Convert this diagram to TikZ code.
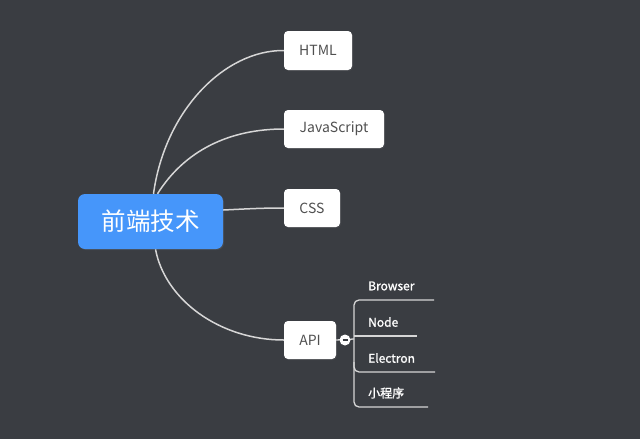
\documentclass[tikz,border=0pt]{standalone}
\usepackage{fontspec}
\setmainfont{Noto Sans CJK SC}
\newfontfamily\subfont[FakeBold=1.3]{Noto Sans CJK SC}
\usetikzlibrary{shadows}
\pgfdeclarelayer{bglayer}
\pgfsetlayers{bglayer,main}
\definecolor{bg}{HTML}{3A3D42}
\definecolor{mainblue}{HTML}{4696FA}
\definecolor{linec}{HTML}{D6D6D6}
\definecolor{boxtext}{HTML}{505050}
\tikzset{
  topic/.style={draw=none,fill=white,rounded corners=4pt,text=boxtext,font=\fontsize{14}{16}\selectfont,
    minimum height=38pt,inner sep=0pt,drop shadow={shadow xshift=1pt,shadow yshift=-1pt,opacity=0.15}},
  central/.style={fill=mainblue,rounded corners=7pt,text=white,font=\fontsize{24.5}{28}\selectfont,
    minimum width=145pt,minimum height=55pt,inner sep=0pt,drop shadow={shadow xshift=1pt,shadow yshift=-1pt,opacity=0.2}},
  conn/.style={draw=linec,line width=1.5pt},
  subconn/.style={draw=linec,line width=1.3pt},
  sub/.style={text=white,font=\subfont\fontsize{12}{14}\selectfont,anchor=west,inner sep=0pt},
}
\begin{document}
\begin{tikzpicture}[x=1pt,y=-1pt]
\useasboundingbox (0,0) rectangle (640,439);
\node[central] (c) at (150.5,221.5) {前端技术};
\node[topic,minimum width=68pt,minimum height=39pt] (html) at (318,50.5) {HTML};
\node[topic,minimum width=100pt] (js2) at (334,129) {JavaScript};
\node[topic,minimum width=56pt] (css) at (312,208) {CSS};
\node[topic,minimum width=52pt] (api) at (310,340) {API};
\node[sub] (b1) at (368,286) {Browser};
\node[sub] (b2) at (368,322) {Node};
\node[sub] (b3) at (368,358) {Electron};
\node[sub] (b4) at (368,393) {小程序};
\node[circle,fill=white,minimum size=11pt,inner sep=0pt] (col) at (345,340) {};
\draw[bg,line width=1.5pt] ([xshift=-2.5pt]col.center) -- ([xshift=2.5pt]col.center);
\coordinate (br) at (354,339);
\begin{pgfonlayer}{bglayer}
\fill[bg] (0,0) rectangle (640,439);
\draw[conn] ([xshift=3pt]c.north) .. controls (165,110) and (225,50) .. (html.west);
\draw[conn] ([xshift=7pt]c.north) .. controls (185,150) and (230,129) .. (js2.west);
\draw[conn] (c.east |- 0,210) .. controls (245,209) and (260,208) .. (css.west);
\draw[conn] ([xshift=5pt]c.south) .. controls (165,300) and (220,340) .. (api.west);
\draw[subconn] (api.east) -- (br);
\draw[subconn,rounded corners=5pt] (434,300) -- (354,300) -- (354,407) -- (428,407);
\draw[subconn] (354,336) -- (417,336);
\draw[subconn,rounded corners=5pt] (354,362) -- (354,372) -- (435,372);
\end{pgfonlayer}
\end{tikzpicture}
\end{document}
